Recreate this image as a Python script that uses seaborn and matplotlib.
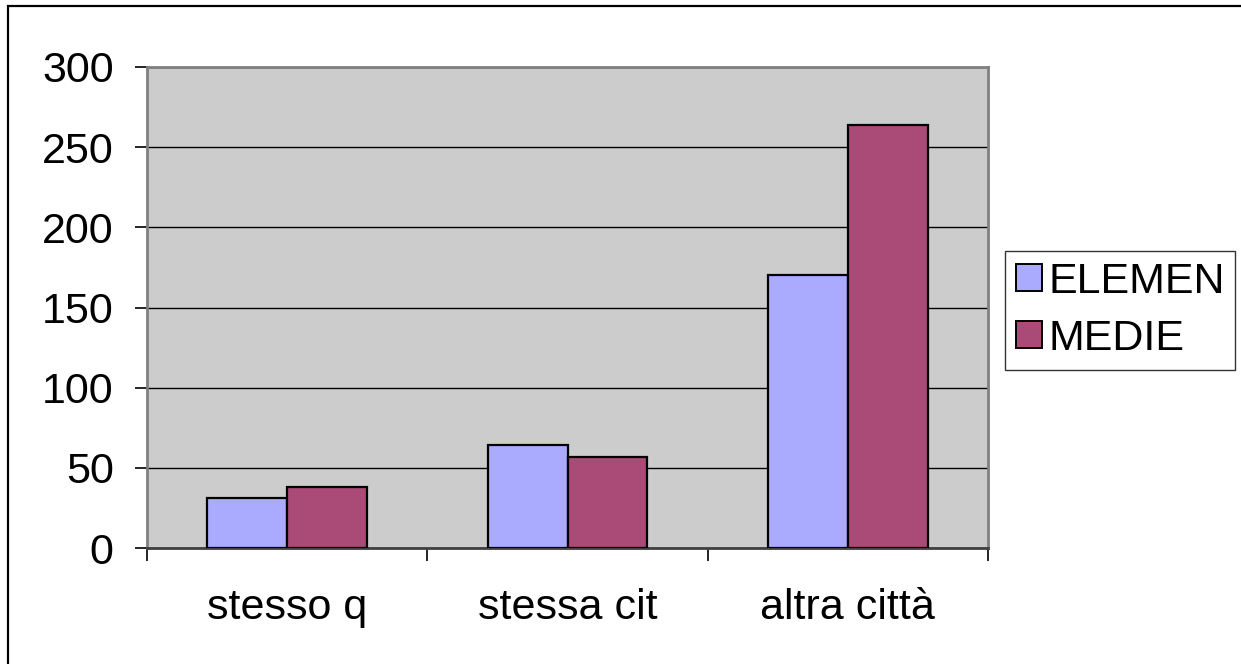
import matplotlib
matplotlib.use("Agg")
import matplotlib.pyplot as plt
import seaborn as sns
import pandas as pd
from matplotlib.patches import Rectangle, Patch

categories = ["stesso q", "stessa cit", "altra città"]
series_names = ["ELEMEN", "MEDIE"]
elemen = [31, 64, 170]
medie = [38, 57, 264]
y_ticks = [0, 50, 100, 150, 200, 250, 300]
colors = ["#AAAAFF", "#AA4A76"]

df = pd.DataFrame({
    "cat": categories * 2,
    "serie": [series_names[0]] * 3 + [series_names[1]] * 3,
    "val": elemen + medie,
})

sns.set_theme(style="white")
plt.rcParams["font.family"] = ["Liberation Sans", "DejaVu Sans"]
plt.rcParams["text.color"] = "black"
plt.rcParams["xtick.color"] = "black"
plt.rcParams["ytick.color"] = "black"

FS = 31

W, H = 1241, 664
fig = plt.figure(figsize=(W / 100, H / 100), dpi=100)
ax = fig.add_axes([147 / W, 1 - 548 / H, (988 - 147) / W, (548 - 67) / H])
ax.set_facecolor("#CCCCCC")

sns.barplot(data=df, x="cat", y="val", hue="serie", order=categories,
            hue_order=series_names, palette=colors, width=0.57,
            edgecolor="black", linewidth=1.6, ax=ax, legend=False,
            errorbar=None, saturation=1, zorder=3)

ax.set_xlim(-0.5, 2.5)
ax.set_ylim(0, 300)
ax.set_yticks(y_ticks)
ax.yaxis.grid(True, color="black", linewidth=1.0, zorder=1)
ax.set_axisbelow(True)
ax.set_xlabel("")
ax.set_ylabel("")

ax.set_xticks([-0.5, 0.5, 1.5, 2.5])
ax.set_xticklabels([])
ax.set_xticks([0, 1, 2], minor=True)
ax.set_xticklabels(categories, minor=True, fontsize=FS)
ax.tick_params(axis="x", which="major", direction="out", length=9, width=1.2, color="black", bottom=True)
ax.tick_params(axis="x", which="minor", length=0, pad=29, labelsize=FS, labelcolor="black")
ax.tick_params(axis="y", direction="out", length=9, width=1.2, color="black", left=True,
               labelsize=FS, pad=15, labelcolor="black")

for s in ["top", "right", "left"]:
    ax.spines[s].set_color("#808080")
    ax.spines[s].set_linewidth(2)
ax.spines["bottom"].set_color("#404040")
ax.spines["bottom"].set_linewidth(2)

handles = [Patch(facecolor=c, edgecolor="black", linewidth=1.4) for c in colors]
leg = fig.legend(handles, series_names, loc="upper left",
                 bbox_to_anchor=(1005 / W, 1 - 251 / H), bbox_transform=fig.transFigure,
                 fontsize=FS, frameon=True, fancybox=False, handlelength=0.6,
                 handleheight=0.6, handletextpad=0.15, borderpad=0.25,
                 labelspacing=0.4, borderaxespad=0)
leg.get_frame().set_edgecolor("black")
leg.get_frame().set_linewidth(1.0)
for t in leg.get_texts():
    t.set_color("black")

fig.patches.append(Rectangle((8 / W, -0.1), 1.2, 1 - 6 / H + 0.1, transform=fig.transFigure,
                             fill=False, edgecolor="black", linewidth=1.6, clip_on=False))

fig.savefig("out.png", dpi=100, facecolor="white")
